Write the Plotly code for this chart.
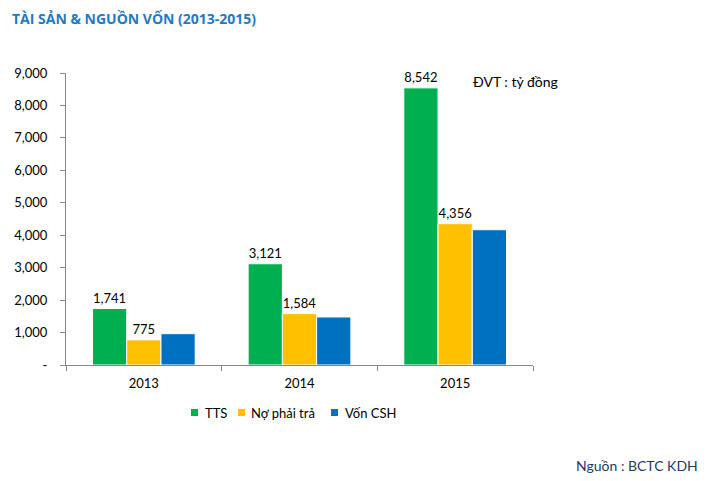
import plotly.graph_objects as go

years = ["2013", "2014", "2015"]
tts = [1741, 3121, 8542]
no_phai_tra = [775, 1584, 4356]
von_csh = [966, 1480, 4170]
tick_vals = [0, 1000, 2000, 3000, 4000, 5000, 6000, 7000, 8000, 9000]
tick_text = ["-", "1,000", "2,000", "3,000", "4,000", "5,000", "6,000", "7,000", "8,000", "9,000"]
series_names = ["TTS", "Nợ phải trả", "Vốn CSH"]
series_colors = ["#00B050", "#FFC000", "#0070C0"]

FONT = "Lato, Open Sans, sans-serif"
W, H = 715, 481
L, R, T, B = 66, 182, 73, 116
PW, PH = W - L - R, H - T - B


def px(x):
    return (x - L) / PW


def py(y):
    return (H - B - y) / PH


fig = go.Figure()
all_vals = [tts, no_phai_tra, von_csh]
for i, (name, vals, col) in enumerate(zip(series_names, all_vals, series_colors)):
    show_text = i < 2
    fig.add_trace(go.Bar(
        name=name, x=years, y=vals,
        marker=dict(color=col, line=dict(color="white", width=1)),
        text=[f"{v:,}" for v in vals] if show_text else None,
        textposition="outside" if show_text else "none",
        cliponaxis=False,
        textfont=dict(size=13, color="#000000", family=FONT),
    ))

fig.update_layout(
    width=W, height=H,
    margin=dict(l=L, r=R, t=T, b=B),
    paper_bgcolor="white", plot_bgcolor="white",
    barmode="group", bargap=0.34, bargroupgap=0,
    font=dict(family=FONT, size=13, color="#000000"),
    showlegend=False,
)

fig.update_xaxes(showline=True, linecolor="#868686", linewidth=1, ticks="outside", tickson="boundaries",
                 ticklen=5, tickcolor="#868686", tickfont=dict(size=13), showgrid=False,
                 ticklabelstandoff=6, automargin=False)
fig.update_yaxes(range=[0, 9000], tickvals=tick_vals, ticktext=tick_text, showline=True, linecolor="#868686",
                 linewidth=1, ticks="outside", ticklen=5, tickcolor="#868686", showgrid=False,
                 tickfont=dict(size=13), zeroline=False, ticklabelstandoff=10, automargin=False)

# legend (drawn manually to match original spacing)
legend_sq = [191, 238, 331]
legend_tx = [203, 249, 343]
for name, col, sx, tx in zip(series_names, series_colors, legend_sq, legend_tx):
    fig.add_shape(type="rect", xref="paper", yref="paper",
                  x0=px(sx), x1=px(sx + 7), y0=py(416), y1=py(409),
                  fillcolor=col, line=dict(width=0))
    fig.add_annotation(text=name, x=px(tx), y=py(413), xref="paper", yref="paper",
                       showarrow=False, xanchor="left", yanchor="middle",
                       font=dict(size=13, color="#000000", family=FONT))

fig.add_annotation(text="<b>TÀI SẢN &amp; NGUỒN VỐN (2013-2015)</b>", x=px(10), y=py(18),
                   xref="paper", yref="paper", showarrow=False, xanchor="left", yanchor="middle",
                   font=dict(size=14, color="#1F7AC2", family="Open Sans, sans-serif"))
fig.add_annotation(text="ĐVT : tỷ đồng", x=px(471), y=py(81), xref="paper", yref="paper",
                   showarrow=False, xanchor="left", yanchor="middle", font=dict(size=14, color="#000000", family=FONT))
fig.add_annotation(text="Nguồn : BCTC KDH", x=px(700), y=py(465), xref="paper", yref="paper",
                   showarrow=False, xanchor="right", yanchor="middle", font=dict(size=14, color="#1F3864", family=FONT))

fig.write_html("out.html", config={"displayModeBar": False},
               post_script="document.body.style.margin='0';")
